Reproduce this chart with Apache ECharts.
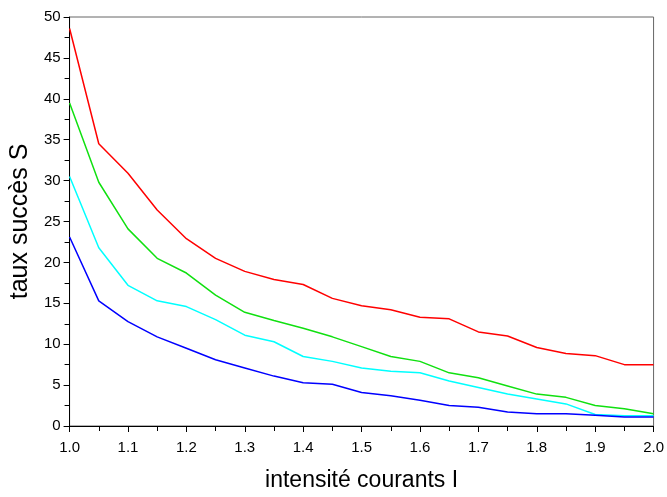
<!DOCTYPE html>
<html>
<head>
<meta charset="utf-8">
<title>taux succès S</title>
<script src="https://cdn.jsdelivr.net/npm/echarts@6/dist/echarts.min.js"></script>
<style>
  html, body { margin: 0; padding: 0; background: #ffffff; overflow: hidden; }
  #chart { width: 667px; height: 497px; }
</style>
</head>
<body>
<div id="chart"></div>
<script>
// intensité des courants I
const currents = [1.00, 1.05, 1.10, 1.15, 1.20, 1.25, 1.30, 1.35, 1.40, 1.45, 1.50,
                  1.55, 1.60, 1.65, 1.70, 1.75, 1.80, 1.85, 1.90, 1.95, 2.00];

// taux de succès S, une courbe par configuration
const redS   = [48.6, 34.5, 30.9, 26.4, 22.9, 20.5, 18.9, 17.9, 17.3, 15.6, 14.7,
                14.2, 13.3, 13.1, 11.5, 11.0, 9.6, 8.85, 8.6, 7.5, 7.5];
const greenS = [39.5, 29.8, 24.1, 20.5, 18.7, 16.0, 13.9, 12.9, 11.95, 10.9, 9.7,
                8.5, 7.9, 6.5, 5.9, 4.9, 3.9, 3.5, 2.5, 2.1, 1.5];
const cyanS  = [30.5, 21.8, 17.2, 15.3, 14.6, 13.0, 11.1, 10.3, 8.5, 7.9, 7.1,
                6.7, 6.5, 5.5, 4.7, 3.9, 3.3, 2.7, 1.4, 1.25, 1.25];
const blueS  = [23.1, 15.3, 12.75, 10.9, 9.5, 8.1, 7.1, 6.1, 5.3, 5.1, 4.1,
                3.7, 3.15, 2.5, 2.3, 1.7, 1.5, 1.5, 1.3, 1.1, 1.1];

const FONT = '"Liberation Sans", Arial, Helvetica, sans-serif';

function pairs(ys) {
  return currents.map((x, i) => [x, ys[i]]);
}

function curve(ys, color) {
  return {
    type: 'line',
    data: pairs(ys),
    symbol: 'none',
    animation: false,
    lineStyle: { color: color, width: 1.5 },
    itemStyle: { color: color }
  };
}

const chart = echarts.init(document.getElementById('chart'), null, { renderer: 'canvas' });

chart.setOption({
  backgroundColor: '#ffffff',
  animation: false,
  grid: {
    left: 67, top: 17, right: 12, bottom: 64,
    show: true,
    borderColor: '#666666',
    borderWidth: 1,
    containLabel: false
  },
  xAxis: {
    type: 'value',
    min: 1.0,
    max: 2.0,
    interval: 0.1,
    name: 'intensité courants I',
    nameLocation: 'middle',
    nameGap: 43,
    nameTextStyle: { fontFamily: FONT, fontSize: 23, color: '#000' },
    axisLine: { show: true, onZero: false, lineStyle: { color: '#000', width: 1 } },
    axisTick: { show: true, inside: false, length: 6, lineStyle: { color: '#000' } },
    minorTick: { show: true, splitNumber: 2, length: 5, lineStyle: { color: '#000' } },
    splitLine: { show: false },
    axisLabel: {
      margin: 14,
      fontFamily: FONT,
      fontSize: 15,
      color: '#000',
      formatter: v => v.toFixed(1)
    }
  },
  yAxis: {
    type: 'value',
    min: 0,
    max: 50,
    interval: 5,
    name: 'taux succès S',
    nameLocation: 'middle',
    nameGap: 33,
    nameTextStyle: { fontFamily: FONT, fontSize: 25, color: '#000' },
    axisLine: { show: true, onZero: false, lineStyle: { color: '#000', width: 1 } },
    axisTick: { show: true, inside: false, length: 6, lineStyle: { color: '#000' } },
    minorTick: { show: true, splitNumber: 2, length: 5, lineStyle: { color: '#000' } },
    splitLine: { show: false },
    axisLabel: {
      margin: 9,
      fontFamily: FONT,
      fontSize: 15,
      color: '#000'
    }
  },
  series: [
    curve(redS, '#ff0000'),
    curve(greenS, '#10e010'),
    curve(cyanS, '#00ffff'),
    curve(blueS, '#0000ff')
  ]
});
</script>
</body>
</html>
